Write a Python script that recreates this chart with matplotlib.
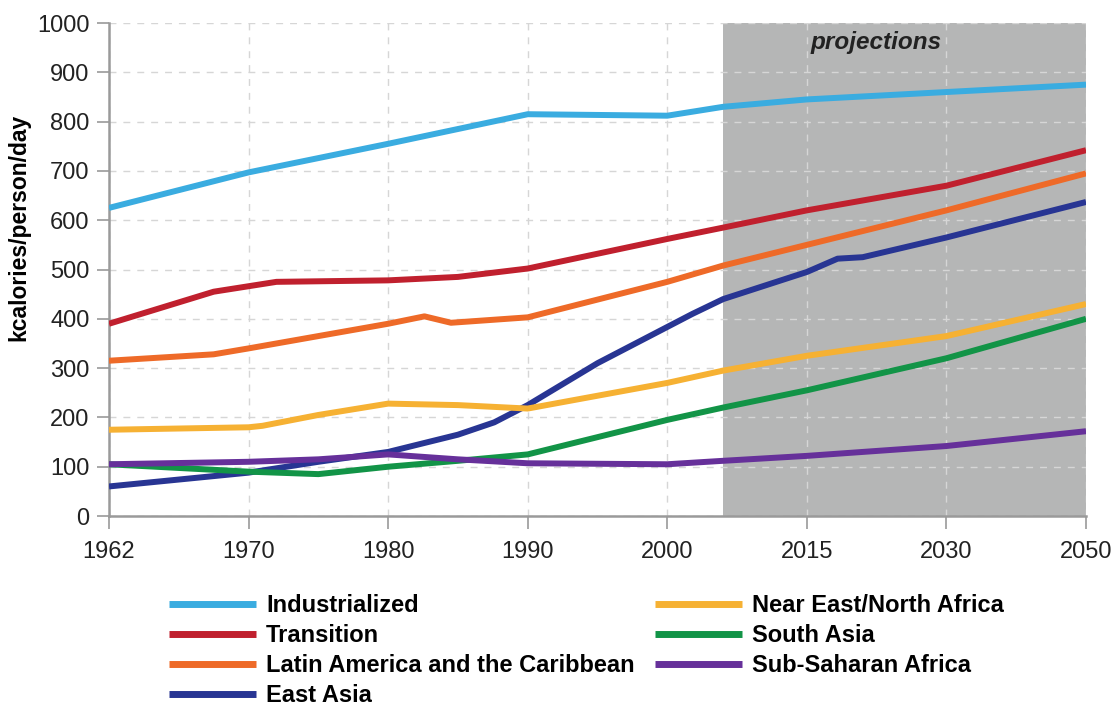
import numpy as np
import matplotlib
matplotlib.use('Agg')
import matplotlib.pyplot as plt

plt.rcParams['font.family'] = ['Liberation Sans', 'DejaVu Sans']

# TICK YEARS (EVENLY SPACED ON THE AXIS)
tick_years = [1962, 1970, 1980, 1990, 2000, 2015, 2030, 2050]
proj_start = 2006

# SERIES (kcal/person/day)
ind_years = [1962, 1970, 1980, 1990, 2000, 2006, 2015, 2030, 2050]
ind_vals = [625, 697, 755, 815, 812, 830, 845, 860, 875]

tra_years = [1962, 1968, 1972, 1980, 1985, 1990, 2000, 2006, 2015, 2030, 2050]
tra_vals = [390, 455, 475, 478, 485, 502, 562, 585, 620, 670, 742]

lat_years = [1962, 1968, 1970, 1975, 1980, 1982.6, 1984.5, 1990, 2000, 2006, 2015, 2030, 2050]
lat_vals = [315, 328, 340, 365, 390, 405, 392, 403, 475, 508, 550, 620, 695]

eas_years = [1962, 1970, 1975, 1980, 1985, 1987.6, 1990, 1995, 2002.7, 2006, 2015, 2018.3, 2021, 2030, 2050]
eas_vals = [60, 88, 110, 130, 165, 190, 225, 310, 410, 440, 495, 522, 525, 565, 637]

nea_years = [1962, 1970, 1971, 1975, 1980, 1985, 1990, 2000, 2006, 2015, 2030, 2050]
nea_vals = [175, 180, 183, 205, 228, 225, 218, 270, 295, 325, 365, 430]

sas_years = [1962, 1970, 1975, 1980, 1985, 1990, 2000, 2006, 2015, 2030, 2050]
sas_vals = [105, 90, 85, 100, 112, 125, 195, 220, 255, 320, 400]

ssa_years = [1962, 1970, 1975, 1980, 1985, 1990, 2000, 2006, 2015, 2030, 2050]
ssa_vals = [105, 110, 115, 125, 115, 107, 105, 112, 122, 142, 172]

labels = ['Industrialized', 'Transition', 'Latin America and the Caribbean', 'East Asia',
          'Near East/North Africa', 'South Asia', 'Sub-Saharan Africa']
colors = ['#3aace0', '#c0202e', '#ee6a28', '#283593', '#f6b133', '#129447', '#66309a']
series = [(ind_years, ind_vals), (tra_years, tra_vals), (lat_years, lat_vals), (eas_years, eas_vals),
          (nea_years, nea_vals), (sas_years, sas_vals), (ssa_years, ssa_vals)]

idx = np.arange(len(tick_years), dtype=float)
ty = np.array(tick_years, dtype=float)


def fwd(x):
    x = np.asarray(x, dtype=float)
    out = np.interp(x, ty, idx)
    out = np.where(x < ty[0], (x - ty[0]) / (ty[1] - ty[0]), out)
    out = np.where(x > ty[-1], idx[-1] + (x - ty[-1]) / (ty[-1] - ty[-2]), out)
    return out


def inv(p):
    p = np.asarray(p, dtype=float)
    out = np.interp(p, idx, ty)
    out = np.where(p < 0, ty[0] + p * (ty[1] - ty[0]), out)
    out = np.where(p > idx[-1], ty[-1] + (p - idx[-1]) * (ty[-1] - ty[-2]), out)
    return out


fig = plt.figure(figsize=(11.18, 7.1), dpi=100)
ax = fig.add_axes([0.0975, 0.2732, 0.8739, 0.6944])
ax.set_xscale('function', functions=(fwd, inv))

ax.axvspan(proj_start, 2050, color='#b5b6b6', zorder=0.2, lw=0)

for (yrs, vals), lab, c in zip(series, labels, colors):
    ax.plot(yrs, vals, color=c, lw=4.3, label=lab, solid_capstyle='butt', zorder=3)

ax.set_xlim(1962, 2050)
ax.set_ylim(0, 1000)
ax.set_xticks(tick_years)
ax.set_xticklabels([str(t) for t in tick_years])
ax.set_yticks(range(0, 1001, 100))
ax.xaxis.set_minor_locator(matplotlib.ticker.NullLocator())

ax.set_axisbelow(True)
ax.grid(True, color='#d6d6d6', linestyle=(0, (5, 5)), lw=1.0)

for s in ['top', 'right']:
    ax.spines[s].set_visible(False)
for s in ['left', 'bottom']:
    ax.spines[s].set_color('#9a9a9a')
    ax.spines[s].set_linewidth(1.8)
ax.tick_params(axis='both', colors='#9a9a9a', length=9, width=1.2, labelsize=17,
               labelcolor='#222222', pad=5)
ax.tick_params(axis='x', pad=9)

ax.set_ylabel('kcalories/person/day', fontsize=16.5, fontweight='bold')
ax.yaxis.set_label_coords(-0.080, 0.585)

ax.text(2022.4, 961, 'projections', fontsize=17.5, fontweight='bold', style='italic',
        ha='center', va='center', color='#222222')

leg = fig.legend(loc='upper left', bbox_to_anchor=(0.132, 0.193), ncol=2, frameon=False,
                 handlelength=3.7, handletextpad=0.42, columnspacing=0.85, labelspacing=0.3,
                 prop={'size': 17, 'weight': 'bold'})
for line in leg.get_lines():
    line.set_linewidth(5)

fig.savefig('out.png', dpi=100)
